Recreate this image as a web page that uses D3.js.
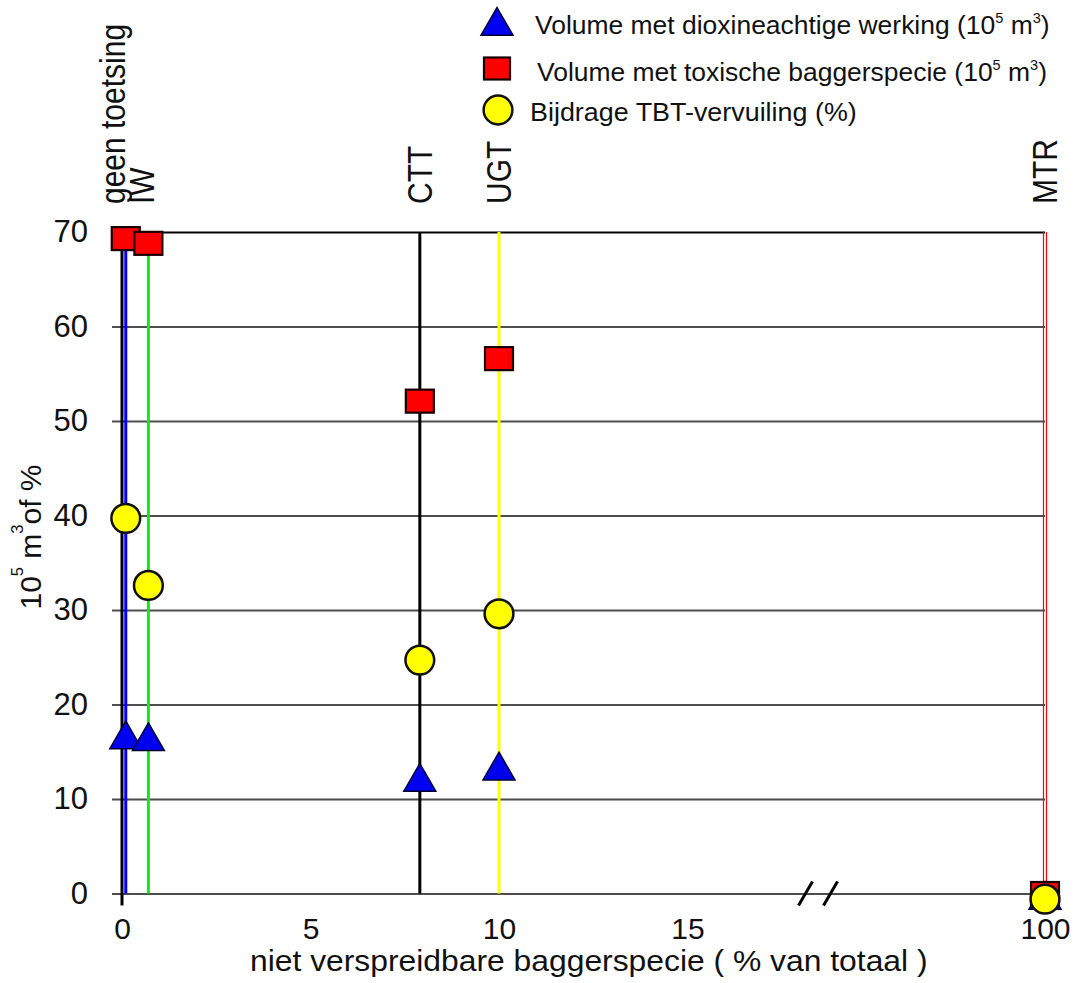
<!DOCTYPE html>
<html><head><meta charset="utf-8">
<script src="https://cdn.jsdelivr.net/npm/d3@7"></script>
<style>
body{margin:0;background:#fff}
text{font-family:"Liberation Sans",Arial,Helvetica,sans-serif;fill:#111}
</style>
</head><body>
<svg id="c" width="1088" height="983"></svg>
<script>
// ---------- data ----------
const xTicks = [0, 5, 10, 15, 100];
const yTicks = [0, 10, 20, 30, 40, 50, 60, 70];
const normLabels = ["geen toetsing", "IW", "CTT", "UGT", "MTR"];
const normX = [0.1, 0.7, 7.9, 10, 100];
const normColors = ["#0000ff", "#19e619", "#000000", "#ffff00", "#ff0000"];
const dioxine = [16.3, 16.1, 11.8, 13.0, -0.7];   // 10^5 m3
const toxisch = [69.3, 68.8, 52.1, 56.6, 0];      // 10^5 m3
const tbt = [39.7, 32.6, 24.7, 29.6, -0.6];       // %
const legendLabels = [
  [["Volume met dioxineachtige werking (10"], ["5", true], [" m"], ["3", true], [")"]],
  [["Volume met toxische baggerspecie (10"], ["5", true], [" m"], ["3", true], [")"]],
  [["Bijdrage TBT-vervuiling (%)"]]
];
const xTitle = "niet verspreidbare baggerspecie ( % van totaal )";
const yTitleParts = [["10"], ["5", true], [" m"], ["3", true], ["of %"]];

// ---------- setup ----------
const svg = d3.select("#c");
const x = d3.scaleLinear().domain([0, 15, 100]).range([122, 687.5, 1045]);
const y = d3.scaleLinear().domain([0, 70]).range([893.5, 232]);

function rich(sel, parts, fs) {
  const t = sel.append("text").attr("font-size", fs);
  const up = fs * 0.42;
  parts.forEach(([s, sup], i) => {
    const ts = t.append("tspan").text(s);
    if (sup) ts.attr("font-size", fs * 0.55).attr("dy", -up);
    else if (i > 0 && parts[i - 1][1]) ts.attr("dy", up);
  });
  return t;
}
function fitX(t, w) {
  const b = t.node().getBBox();
  t.attr("transform", `scale(${w / b.width},1)`);
}

// ---------- gridlines + y axis ----------
const yAx = svg.append("g").attr("transform", "translate(112,0)")
  .call(d3.axisLeft(y).tickValues(yTicks).tickSize(-(x(100) - 112)).tickPadding(24));
yAx.select(".domain").remove();
yAx.selectAll(".tick line").attr("stroke", d => d === 70 ? "#000" : "#4d4d4d").attr("stroke-width", 2);
yAx.selectAll(".tick text").attr("font-size", 31).attr("fill", "#111")
  .attr("font-family", '"Liberation Sans",Arial,sans-serif');

// x axis
const xAx = svg.append("g").attr("transform", `translate(0,${y(0)})`)
  .call(d3.axisBottom(x).tickValues(xTicks).tickSize(0).tickPadding(24).tickFormat(d3.format("d")));
xAx.select(".domain").remove();
xAx.selectAll(".tick text").attr("font-size", 30).attr("fill", "#111")
  .attr("font-family", '"Liberation Sans",Arial,sans-serif');

// axis break
const bx = x(15) + 118;
[0, 25].forEach(o => {
  svg.append("line").attr("x1", bx + o - 7).attr("y1", y(0) + 12).attr("x2", bx + o + 7).attr("y2", y(0) - 12)
    .attr("stroke", "#000").attr("stroke-width", 3);
});

// ---------- norm lines ----------
normX.forEach((v, i) => {
  if (v === 100) {
    [-1.5, 1.5].forEach(o => svg.append("line")
      .attr("x1", x(v) + o).attr("x2", x(v) + o).attr("y1", y(70)).attr("y2", y(0))
      .attr("stroke", normColors[i]).attr("stroke-width", 1.2));
  } else {
    svg.append("line").attr("x1", x(v)).attr("x2", x(v)).attr("y1", y(70)).attr("y2", y(0))
      .attr("stroke", normColors[i]).attr("stroke-width", 3);
  }
});
// black y-axis line
svg.append("line").attr("x1", x(0)).attr("x2", x(0)).attr("y1", y(70)).attr("y2", y(0) + 12)
  .attr("stroke", "#000").attr("stroke-width", 3);

// ---------- markers ----------
const tri = d3.symbol().type(d3.symbolTriangle).size(443);
const circ = d3.symbol().type(d3.symbolCircle).size(650);
svg.append("g").selectAll("path").data(dioxine).join("path")
  .attr("d", tri).attr("transform", (d, i) => `translate(${x(normX[i])},${y(d)})`)
  .attr("fill", "#0000f0").attr("stroke", "#000033").attr("stroke-width", 1.5);
svg.append("g").selectAll("rect").data(toxisch).join("rect")
  .attr("x", (d, i) => x(normX[i]) - 14).attr("y", d => y(d) - 11.5)
  .attr("width", 28).attr("height", 23)
  .attr("fill", "#ff0000").attr("stroke", "#1a0000").attr("stroke-width", 2.2);
svg.append("g").selectAll("path").data(tbt).join("path")
  .attr("d", circ).attr("transform", (d, i) => `translate(${x(normX[i])},${y(d)})`)
  .attr("fill", "#ffff00").attr("stroke", "#111").attr("stroke-width", 2.5);

// ---------- norm labels ----------
const labelShift = [-13, -6, 0, 0, 0];
normLabels.forEach((s, i) => {
  const cx = x(normX[i]) + labelShift[i];
  const g = svg.append("g").attr("transform", `translate(${cx},204) rotate(-90)`);
  g.append("text").attr("font-size", 30).attr("text-anchor", "start")
    .attr("dominant-baseline", "central").attr("transform", "scale(1,1.15)").text(s);
});

// ---------- axis titles ----------
const yt = svg.append("g").attr("transform", "translate(30,537) rotate(-90)");
rich(yt, yTitleParts, 30).attr("text-anchor", "middle").attr("dominant-baseline", "central");

const xt = svg.append("g").attr("transform", "translate(250,971)");
const xtt = xt.append("text").attr("font-size", 29).text(xTitle);
fitX(xtt, 678);

// ---------- legend ----------
const legY = [23, 68.5, 110];
const legTextX = [535, 537, 530];
const legBase = [34, 81, 121];
const legW = [515, 510, 327];
const lg = svg.append("g");
lg.append("path").attr("d", tri).attr("transform", `translate(497,${legY[0] + 3})`)
  .attr("fill", "#0000f0").attr("stroke", "#000033").attr("stroke-width", 1.5);
lg.append("rect").attr("x", 497 - 13).attr("y", legY[1] - 11).attr("width", 26).attr("height", 22)
  .attr("fill", "#ff0000").attr("stroke", "#1a0000").attr("stroke-width", 2.2);
lg.append("path").attr("d", circ).attr("transform", `translate(498,${legY[2]})`)
  .attr("fill", "#ffff00").attr("stroke", "#111").attr("stroke-width", 2.5);
legendLabels.forEach((parts, i) => {
  const g = lg.append("g").attr("transform", `translate(${legTextX[i]},${legBase[i]})`);
  const t = rich(g, parts, 26);
  fitX(t, legW[i]);
});
</script>
</body></html>
